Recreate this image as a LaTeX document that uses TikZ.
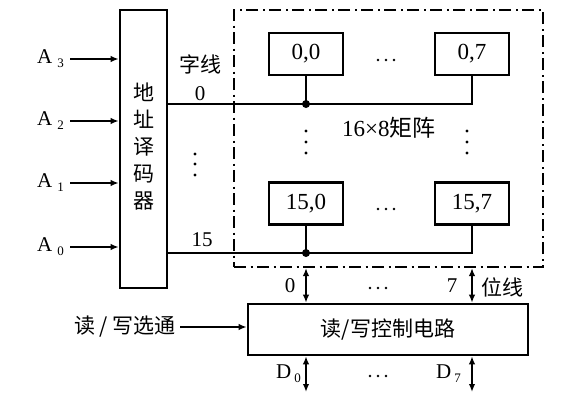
\documentclass[tikz,border=0pt]{standalone}
\usepackage{fontspec}
\setmainfont{Liberation Serif}
\newfontfamily\cjk{Noto Sans CJK SC}
\usetikzlibrary{arrows.meta}
\begin{document}
\begin{tikzpicture}[x=1pt,y=-1pt,
  ln/.style={line width=2.5pt},
  box/.style={draw,line width=2.6pt,inner sep=0pt},
  txt/.style={inner sep=0pt,font=\fontsize{21}{24}\selectfont},
  ctxt/.style={inner sep=0pt,font=\fontsize{21}{24}\selectfont\cjk},
  cell/.style={box,minimum width=74,minimum height=42,font=\fontsize{23}{24}\selectfont},
  arr/.style={ln,-{Latex[length=8pt,width=6.5pt]}},
  darr/.style={ln,{Latex[length=8pt,width=6.5pt]}-{Latex[length=8pt,width=6.5pt]}},
  dashdot/.style={draw,line width=2.2pt,dash pattern=on 12pt off 4.5pt on 2pt off 4.5pt},
  junc/.style={circle,fill,inner sep=0pt,minimum size=8pt},
  vdot/.style={circle,fill,inner sep=0pt,minimum size=3.2pt},
  hdot/.style={circle,fill,inner sep=0pt,minimum size=2.8pt}]
\useasboundingbox (0,0) rectangle (562,400);
% decoder
\node[box,minimum width=47,minimum height=278] (dec) at (143.5,149) {};
\node[ctxt,align=center,font=\fontsize{21}{27}\selectfont\cjk] (dectxt) at (143.5,147) {地\\址\\译\\码\\器};
% address inputs
\foreach \i/\y in {3/59,2/121,1/183,0/247}{
  \node[txt,anchor=east] (a\i) at (64,\y) {A\hspace{5pt}\raisebox{-4pt}{\fontsize{13}{13}\selectfont \i}};
  \draw[arr] (a\i.east |- 0,\y) ++(6,0) coordinate (s\i) -- (dec.west |- s\i);
}
% matrix
\node[dashdot,minimum width=309,minimum height=257] (mat) at (388.5,138.5) {};
\node[cell] (c00) at (306,54) {0,0};
\node[cell] (c07) at (472,54) {0,7};
\node[cell] (c150) at (306,203.5) {15,0};
\node[cell] (c157) at (472,203.5) {15,7};
% horizontal ellipses
\foreach \cx/\cy/\n in {386/60/h1,386/209/h2,378/288/h3,378/376/h4}{
  \node[hdot] (\n a) at (\cx-8,\cy) {};
  \node[hdot] (\n b) at (\cx,\cy) {};
  \node[hdot] (\n c) at (\cx+8,\cy) {};
}
\foreach \x/\n in {306/l,467/r}{
  \node[vdot] (\n1) at (\x,131) {};
  \node[vdot] (\n2) at (\x,142) {};
  \node[vdot] (\n3) at (\x,153) {};
}
\node[txt,anchor=west,font=\fontsize{23}{24}\selectfont] (mlabel) at (342,128) {16×8{\cjk 矩阵}};
% word lines
\coordinate (w0) at (dec.east |- 0,104);
\coordinate (w15) at (dec.east |- 0,253);
\draw[ln] (w0) -| (c07.south);
\draw[ln] (c00.south) -- (c00.south |- w0) node[junc] (j0) {};
\draw[ln] (w15) -| (c157.south);
\draw[ln] (c150.south) -- (c150.south |- w15) node[junc] (j15) {};
\node[ctxt] (zx) at (200,64) {字线};
\node[txt] (n0) at (200,94) {0};
\node[vdot] (d1) at (195,154) {};
\node[vdot] (d2) at (195,164) {};
\node[vdot] (d3) at (195,175) {};
\node[txt] (n15) at (202,240) {15};
% read/write circuit
\node[box,minimum width=280,minimum height=51,font=\fontsize{21}{24}\selectfont\cjk] (rw) at (388,329.5) {读/写控制电路};
\draw[darr] (c150.south |- mat.south) -- (c150.south |- rw.north);
\draw[darr] (c157.south |- mat.south) -- (c157.south |- rw.north);
\node[txt] (b0) at (290,286) {0};
\node[txt] (b7) at (452,286) {7};
\node[ctxt] (wx) at (502,287) {位线};
\node[ctxt,anchor=east] (rws) at (176,327) {读 / 写选通};
\draw[arr] (rws.east) ++(4,0) coordinate (rs) -- (rw.west |- rs);
\coordinate (d0e) at (c150.south |- 0,392);
\coordinate (d7e) at (c157.south |- 0,392);
\draw[darr] (c150.south |- rw.south) -- (d0e);
\draw[darr] (c157.south |- rw.south) -- (d7e);
\node[txt,anchor=east] (D0) at (301,374) {D\hspace{3pt}\raisebox{-4pt}{\fontsize{13}{13}\selectfont 0}};
\node[txt,anchor=east] (D7) at (461,374) {D\hspace{3pt}\raisebox{-4pt}{\fontsize{13}{13}\selectfont 7}};
\end{tikzpicture}
\end{document}
